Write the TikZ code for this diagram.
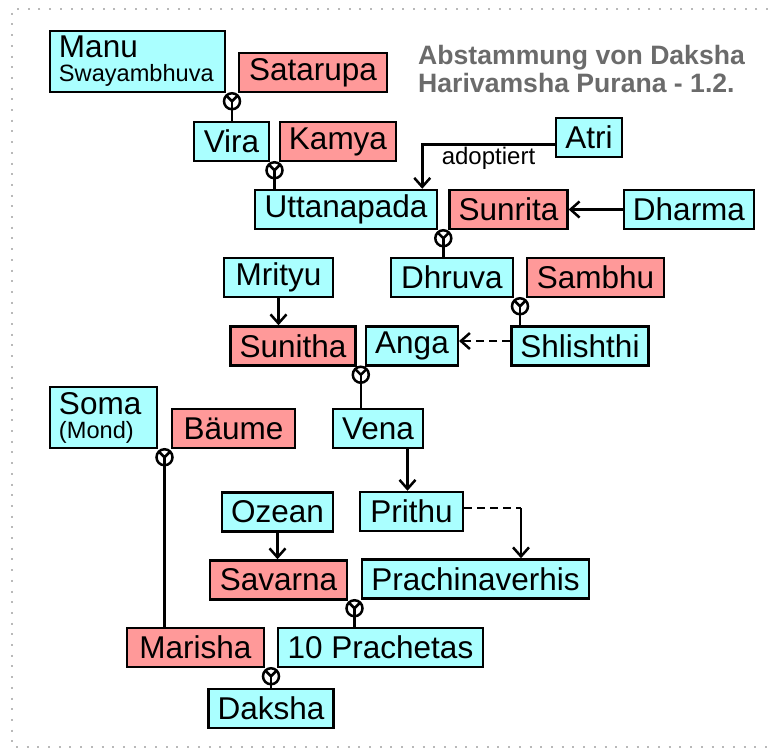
\documentclass[tikz,border=0pt]{standalone}
\usepackage{fontspec}
\setmainfont{Liberation Sans}
\usetikzlibrary{arrows.meta,calc}
\definecolor{blau}{HTML}{AAFFFF}
\definecolor{rot}{HTML}{FF9999}
\definecolor{titelgrau}{HTML}{6B6B6B}
\newcommand\klein{\fontsize{11.8}{10.5}\selectfont}

\begin{document}
\begin{tikzpicture}[x=0.5pt,y=-0.5pt,line width=1.25pt,
  >={Straight Barb[length=4.5pt,width=8pt]}]
\tikzstyle person=[draw, inner xsep=4.5pt, inner ysep=0pt, minimum height=19.5pt, font=\fontsize{15.75}{16}\selectfont]
\tikzstyle mann=[person, fill=blau]
\tikzstyle frau=[person, fill=rot]
\tikzstyle gestrichelt=[dash pattern=on 4pt off 2.5pt]
\tikzstyle rahmen=[gray!55, line width=1pt, dash pattern=on 1pt off 4.35pt]

\useasboundingbox (0,0) rectangle (768,750);
\draw[rahmen] (768,9) -- (12,9) -- (12,747) -- (768,747);

\node[titelgrau, anchor=west, align=left, inner sep=0pt, font=\bfseries\fontsize{13.3}{14}\selectfont] (titel) at (417,69) {Abstammung von Daksha\\Harivamsha Purana - 1.2.};

% Personen
\node[mann, text width=78.5pt, minimum height=30.5pt, align=left] (manu) at (137.5,61.5) {Manu\\[-4pt]{\klein Swayambhuva}};
\node[frau, minimum width=74pt] (satarupa) at (313,72.5) {Satarupa};
\node[mann, minimum width=37.5pt] (vira) at (231.5,141.5) {Vira};
\node[frau, minimum width=54pt] (kamya) at (338,141.5) {Kamya};
\node[mann, minimum width=33pt] (atri) at (589,137.5) {Atri};
\node[mann, minimum width=91pt] (uttanapada) at (346,209.5) {Uttanapada};
\node[frau, minimum width=57.5pt] (sunrita) at (508.5,209.5) {Sunrita};
\node[mann, minimum width=65pt] (dharma) at (689,209.5) {Dharma};
\node[mann, minimum width=54.5pt] (mrityu) at (278.5,277.5) {Mrityu};
\node[mann, minimum width=61pt] (dhruva) at (452,277.5) {Dhruva};
\node[frau, minimum width=68.5pt] (sambhu) at (595.5,277.5) {Sambhu};
\node[frau, minimum width=61pt] (sunitha) at (293,346) {Sunitha};
\node[mann, minimum width=44pt] (anga) at (412,346) {Anga};
\node[mann, minimum width=68pt] (shlishthi) at (580,346) {Shlishthi};
\node[mann, text width=44.5pt, minimum height=30.5pt, align=left] (soma) at (103.5,417.5) {Soma\\[-4pt]{\klein (Mond)}};
\node[frau, minimum width=61.5pt] (baeume) at (233.5,428.5) {Bäume};
\node[mann, minimum width=44pt] (vena) at (378,428.5) {Vena};
\node[mann, minimum width=54.5pt] (ozean) at (277.5,512) {Ozean};
\node[mann, minimum width=51.5pt] (prithu) at (411.5,511.5) {Prithu};
\node[frau, minimum width=68.5pt] (savarna) at (278.5,580) {Savarna};
\node[mann, minimum width=113.5pt] (prachinaverhis) at (475.5,579) {Prachinaverhis};
\node[frau, minimum width=68.5pt] (marisha) at (195.5,647.5) {Marisha};
\node[mann, minimum width=102.5pt] (prachetas) at (380.5,647.5) {10 Prachetas};
\node[mann, minimum width=61pt] (daksha) at (271,708.5) {Daksha};

% Ehen
\coordinate (h1) at ($(manu.south east)!0.5!(satarupa.south west)+(0,8)$);
\coordinate (h2) at ($(vira.south east)!0.5!(kamya.south west)+(0,8)$);
\coordinate (h3) at ($(uttanapada.south east)!0.5!(sunrita.south west)+(0,8)$);
\coordinate (h4) at ($(dhruva.south east)!0.5!(sambhu.south west)+(0,8)$);
\coordinate (h5) at ($(sunitha.south east)!0.5!(anga.south west)+(0,8)$);
\coordinate (h6) at ($(soma.south east)!0.5!(baeume.south west)+(0,8)$);
\coordinate (h7) at ($(savarna.south east)!0.5!(prachinaverhis.south west)+(0,8)$);
\coordinate (h8) at ($(marisha.south east)!0.5!(prachetas.south west)+(0,8)$);

\foreach \h in {h1,h2,h3,h4,h5,h6,h7,h8} {
  \draw[fill=white] (\h) circle (4pt);
  \draw (\h) -- +(45:4pt) (\h) -- +(135:4pt);
}
\draw (h1) -- (h1 |- vira.north);
\draw (h2) -- (h2 |- uttanapada.north);
\draw (h3) -- (h3 |- dhruva.north);
\draw (h4) -- (h4 |- shlishthi.north);
\draw (h5) -- (h5 |- vena.north);
\draw (h6) -- (h6 |- marisha.north);
\draw (h7) -- (h7 |- prachetas.north);
\draw (h8) -- (h8 |- daksha.north);

% Abstammung
\draw[->] ([yshift=-3.4pt]atri.west) -| node[pos=0.25, below, inner sep=1pt, font=\fontsize{12}{12}\selectfont] {adoptiert} ([xshift=-8pt]uttanapada.north east);
\draw[->] (dharma.west) -- (sunrita.east);
\draw[->] (mrityu.south) -- (mrityu.south |- sunitha.north);
\draw[->, gestrichelt] ([yshift=2.5pt]shlishthi.west) -- ([yshift=2.5pt]shlishthi.west -| anga.east);
\draw[->] ([xshift=-2pt]prithu.north |- vena.south) -- ([xshift=-2pt]prithu.north);
\coordinate (knick) at (521,508);
\draw[gestrichelt] (prithu.east |- knick) -- (knick);
\draw[->] (knick) -- (knick |- prachinaverhis.north);
\draw[->] (ozean.south) -- (ozean.south |- savarna.north);
\end{tikzpicture}
\end{document}
